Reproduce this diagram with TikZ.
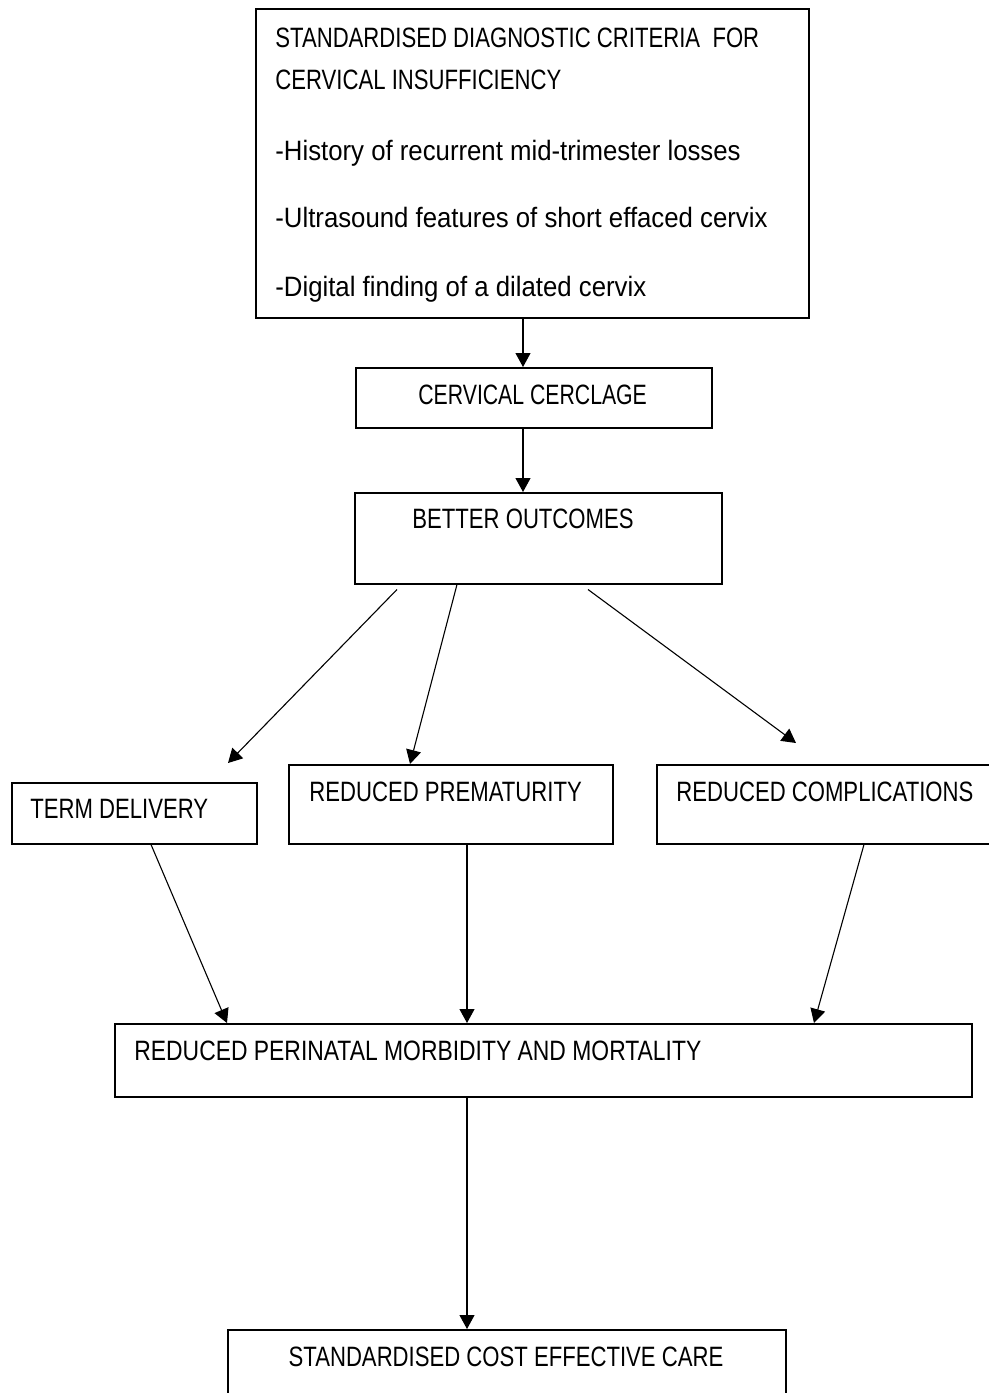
\documentclass[tikz,border=0pt]{standalone}
\usepackage{fontspec}
\setmainfont[FakeStretch=0.79]{Liberation Sans}
\newfontfamily\widerfont[FakeStretch=0.92]{Liberation Sans}
\usetikzlibrary{arrows.meta,calc}
\tikzset{
  box/.style={draw, line width=0.75pt, inner sep=0pt, anchor=north west},
  lbl/.style={inner sep=0pt, anchor=base west, font=\fontsize{14pt}{16pt}\selectfont},
  lowlbl/.style={lbl, font=\fontsize{14pt}{16pt}\selectfont\widerfont},
  arr/.style={line width=0.55pt, -{Triangle[length=7pt,width=7.5pt]}}
}
\begin{document}
\begin{tikzpicture}[x=0.5pt,y=-0.5pt]
\useasboundingbox (0,0) rectangle (989,1393);
\clip (0,0) rectangle (989,1393);
% boxes
\node[box, minimum width=276.5pt, minimum height=154.5pt] (crit) at (255,8) {};
\node[box, minimum width=178pt, minimum height=30pt] (cer) at (355,367) {};
\node[box, minimum width=183.5pt, minimum height=45.5pt] (bet) at (354,492) {};
\node[box, minimum width=122.5pt, minimum height=30.5pt] (term) at (11,782) {};
\node[box, minimum width=162pt, minimum height=39.5pt] (prem) at (288,764) {};
\node[box, minimum width=177pt, minimum height=39.5pt] (comp) at (656,764) {};
\node[box, minimum width=428.5pt, minimum height=36.5pt] (peri) at (114,1023) {};
\node[box, minimum width=279pt, minimum height=45.5pt] (care) at (227,1329) {};
% texts
\node[lbl] (c1) at (275,47) {STANDARDISED DIAGNOSTIC CRITERIA\ \ FOR};
\node[lbl] (c2) at (275,89) {CERVICAL INSUFFICIENCY};
\node[lowlbl] (c3) at (275,160) {-History of recurrent mid-trimester losses};
\node[lowlbl] (c4) at (275,227) {-Ultrasound features of short effaced cervix};
\node[lowlbl] (c5) at (275,296) {-Digital finding of a dilated cervix};
\node[lbl] (tcer) at (418,404) {\scalebox{0.96}[1]{CERVICAL CERCLAGE}};
\node[lbl] (tbet) at (412,528) {BETTER OUTCOMES};
\node[lbl] (tterm) at (30,818) {TERM DELIVERY};
\node[lbl] (tprem) at (309,801) {REDUCED PREMATURITY};
\node[lbl] (tcomp) at (676,801) {REDUCED COMPLICATIONS};
\node[lbl] (tperi) at (134,1060) {\scalebox{1.035}[1]{REDUCED PERINATAL MORBIDITY AND MORTALITY}};
\node[lbl, anchor=base] (tcare) at (506,1366) {STANDARDISED COST EFFECTIVE CARE};
% connectors
\draw[arr] ($(crit.south west)+(268,0)$) -- ($(cer.north west)+(168,0)$);
\draw[arr] ($(cer.south west)+(168,0)$) -- ($(bet.north west)+(169,0)$);
\draw[arr] ($(bet.south west)+(43,5)$) -- ($(term.north west)+(217,-19)$);
\draw[arr] ($(bet.south west)+(103,0)$) -- ($(prem.north west)+(122,0)$);
\draw[arr] ($(bet.south west)+(234,5)$) -- ($(comp.north west)+(140,-21)$);
\draw[arr] ($(term.south west)+(140,0)$) -- ($(peri.north west)+(113,0)$);
\draw[arr] ($(prem.south west)+(179,0)$) -- ($(peri.north west)+(353,0)$);
\draw[arr] ($(comp.south west)+(208,0)$) -- ($(peri.north west)+(700,0)$);
\draw[arr] ($(peri.south west)+(353,0)$) -- ($(care.north west)+(240,0)$);
\end{tikzpicture}
\end{document}
